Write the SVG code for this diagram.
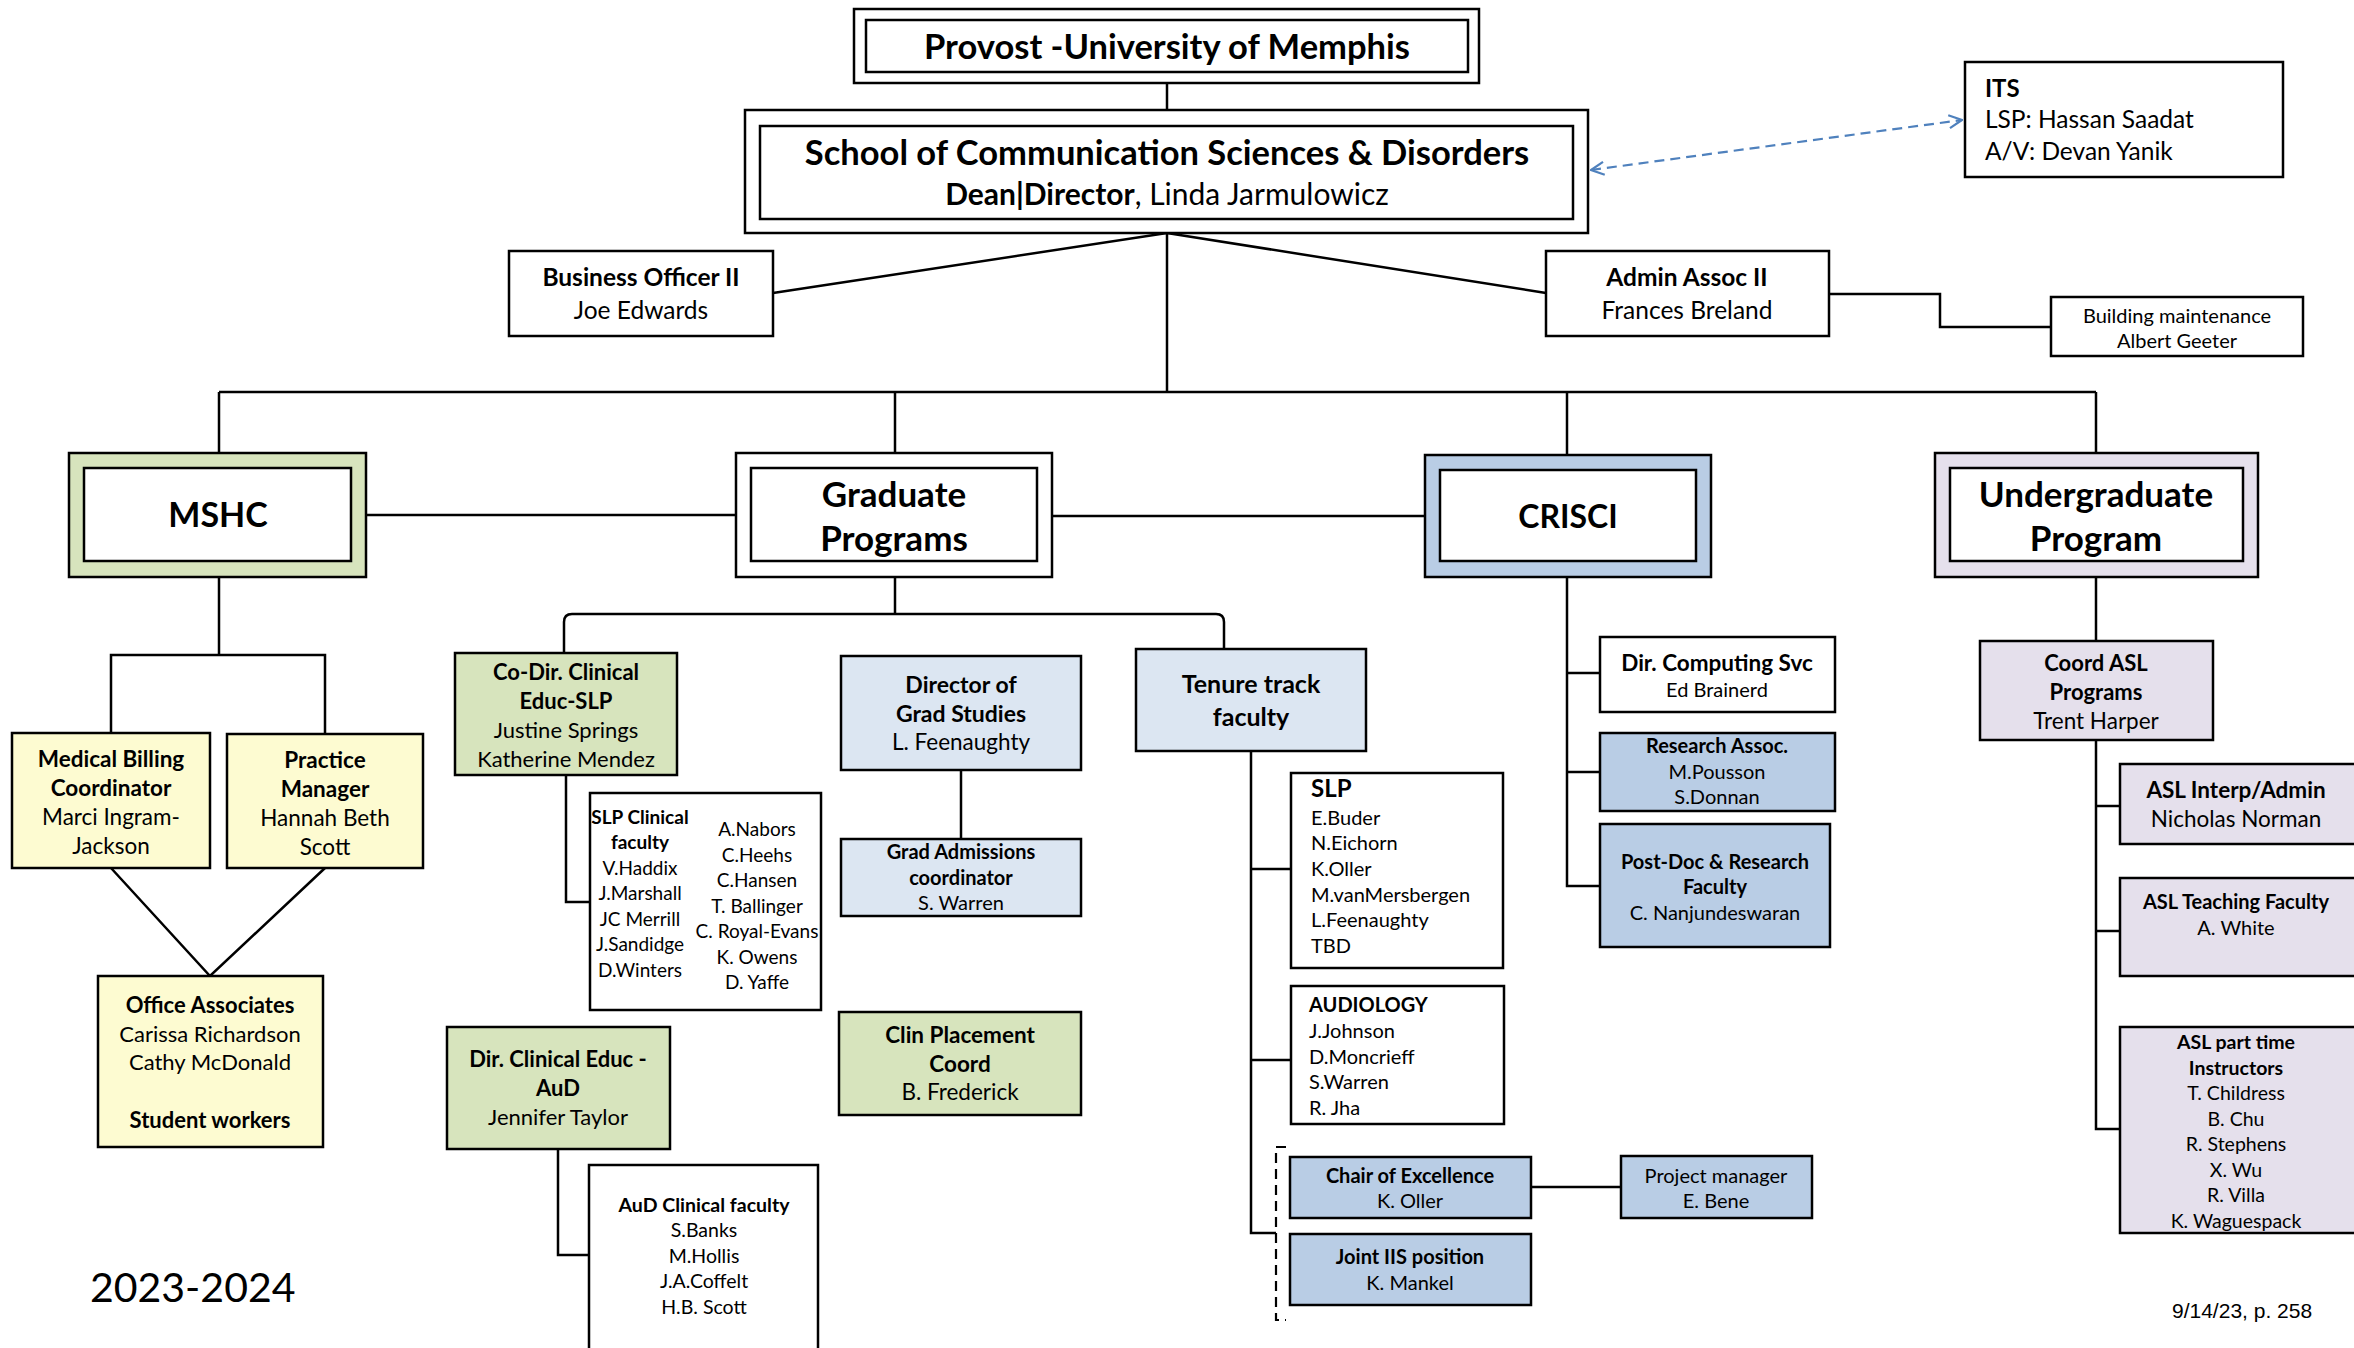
<svg xmlns="http://www.w3.org/2000/svg" width="2354" height="1348" viewBox="0 0 2354 1348">
<style>
text{font-family:Lato,"Liberation Sans",sans-serif;fill:#000}
.b{font-weight:bold}
.m{text-anchor:middle}
.box{stroke:#000;stroke-width:2.5}
.w{fill:#fff}
.g{fill:#d7e4bd}
.y{fill:#fdfbd1}
.lb{fill:#dce6f2}
.mb{fill:#b9cde5}
.lv{fill:#e5e0ec}
.c{fill:none;stroke:#000;stroke-width:2.5}
</style>
<defs>
<marker id="ah" viewBox="0 0 16 16" refX="15" refY="8" markerWidth="16" markerHeight="16" markerUnits="userSpaceOnUse" orient="auto-start-reverse">
<path d="M2,1.5 L15,8 L2,14.5" fill="none" stroke="#4f81bd" stroke-width="2.2"/>
</marker>
</defs>
<rect width="2354" height="1348" fill="#fff"/>

<g id="connectors">
<line class="c" x1="1167" y1="83" x2="1167" y2="110"/>
<polyline class="c" points="773,293 1167,233 1546,293"/>
<line class="c" x1="1167" y1="233" x2="1167" y2="392"/>
<line class="c" x1="219" y1="392" x2="2096" y2="392"/>
<line class="c" x1="219" y1="392" x2="219" y2="453"/>
<line class="c" x1="895" y1="392" x2="895" y2="453"/>
<line class="c" x1="1567" y1="392" x2="1567" y2="455"/>
<line class="c" x1="2096" y1="392" x2="2096" y2="453"/>
<polyline class="c" points="1829,294 1940,294 1940,327 2051,327"/>
<line x1="1591" y1="170" x2="1962" y2="120" stroke="#4f81bd" stroke-width="2.2" stroke-dasharray="10,6" marker-start="url(#ah)" marker-end="url(#ah)"/>
<line class="c" x1="366" y1="515" x2="736" y2="515"/>
<line class="c" x1="1052" y1="516" x2="1425" y2="516"/>
<polyline class="c" points="219,577 219,655"/>
<polyline class="c" points="111,733 111,655 325,655 325,734"/>
<polyline class="c" points="111,868 210,976 325,868"/>
<line class="c" x1="895" y1="577" x2="895" y2="614"/>
<path class="c" d="M564,653 L564,622 Q564,614 572,614 L1216,614 Q1224,614 1224,622 L1224,649"/>
<polyline class="c" points="566,775 566,902 590,902"/>
<polyline class="c" points="558,1149 558,1255 589,1255"/>
<line class="c" x1="961" y1="770" x2="961" y2="839"/>
<polyline class="c" points="1251,751 1251,1233 1276,1233"/>
<line class="c" x1="1251" y1="869" x2="1291" y2="869"/>
<line class="c" x1="1251" y1="1060" x2="1291" y2="1060"/>
<polyline points="1286,1147 1276,1147 1276,1320 1286,1320" fill="none" stroke="#000" stroke-width="2.2" stroke-dasharray="10,6"/>
<line class="c" x1="1531" y1="1187" x2="1621" y2="1187"/>
<polyline class="c" points="1567,577 1567,886 1600,886"/>
<line class="c" x1="1567" y1="673" x2="1600" y2="673"/>
<line class="c" x1="1567" y1="772" x2="1600" y2="772"/>
<line class="c" x1="2096" y1="577" x2="2096" y2="641"/>
<polyline class="c" points="2096,740 2096,1129 2120,1129"/>
<line class="c" x1="2096" y1="806" x2="2120" y2="806"/>
<line class="c" x1="2096" y1="931" x2="2120" y2="931"/>
</g>

<g id="provost">
<rect class="box w" x="854" y="9" width="625" height="74"/>
<rect class="box w" x="866" y="20" width="602" height="52"/>
<text class="b m" style="font-size:34.5px" x="1167" y="59">Provost -University of Memphis</text>
</g>
<g id="school">
<rect class="box w" x="745" y="110" width="843" height="123"/>
<rect class="box w" x="760" y="126" width="813" height="93"/>
<text class="b m" style="font-size:34.5px" x="1167" y="165">School of Communication Sciences &amp; Disorders</text>
<text class="m" style="font-size:30px" x="1167" y="205"><tspan class="b">Dean|Director</tspan>, Linda Jarmulowicz</text>
</g>
<g id="its">
<rect class="box w" x="1965" y="62" width="318" height="115"/>
<text class="b" style="font-size:24px" x="1985" y="97">ITS</text>
<text style="font-size:24.5px" x="1985" y="128">LSP: Hassan Saadat</text>
<text style="font-size:24.5px" x="1985" y="160">A/V: Devan Yanik</text>
</g>
<g id="business-officer">
<rect class="box w" x="509" y="251" width="264" height="85"/>
<text class="b m" style="font-size:24.5px" x="641" y="286">Business Officer II</text>
<text class="m" style="font-size:24.5px" x="641" y="319">Joe Edwards</text>
</g>
<g id="admin-assoc">
<rect class="box w" x="1546" y="251" width="283" height="85"/>
<text class="b m" style="font-size:24.5px" x="1687" y="286">Admin Assoc II</text>
<text class="m" style="font-size:24.5px" x="1687" y="319">Frances Breland</text>
</g>
<g id="building">
<rect class="box w" x="2051" y="297" width="252" height="59"/>
<text class="m" style="font-size:20px" x="2177" y="323">Building maintenance</text>
<text class="m" style="font-size:20px" x="2177" y="348">Albert Geeter</text>
</g>

<g id="mshc">
<rect class="box g" x="69" y="453" width="297" height="124"/>
<rect class="box w" x="84" y="468" width="267" height="93"/>
<text class="b m" style="font-size:34px" x="218" y="527">MSHC</text>
</g>
<g id="graduate">
<rect class="box w" x="736" y="453" width="316" height="124"/>
<rect class="box w" x="751" y="468" width="286" height="93"/>
<text class="b m" style="font-size:35px" x="894" y="507">Graduate</text>
<text class="b m" style="font-size:35px" x="894" y="551">Programs</text>
</g>
<g id="crisci">
<rect class="box mb" x="1425" y="455" width="286" height="122"/>
<rect class="box w" x="1440" y="470" width="256" height="91"/>
<text class="b m" style="font-size:32px" x="1568" y="528">CRISCI</text>
</g>
<g id="undergraduate">
<rect class="box lv" x="1935" y="453" width="323" height="124"/>
<rect class="box w" x="1950" y="468" width="293" height="93"/>
<text class="b m" style="font-size:35px" x="2096" y="507">Undergraduate</text>
<text class="b m" style="font-size:35px" x="2096" y="551">Program</text>
</g>

<g id="medical-billing">
<rect class="box y" x="12" y="733" width="198" height="135"/>
<text class="b m" style="font-size:22.5px" x="111" y="767">Medical Billing</text>
<text class="b m" style="font-size:22.5px" x="111" y="796">Coordinator</text>
<text class="m" style="font-size:22.5px" x="111" y="825">Marci Ingram-</text>
<text class="m" style="font-size:22.5px" x="111" y="854">Jackson</text>
</g>
<g id="practice-manager">
<rect class="box y" x="227" y="734" width="196" height="134"/>
<text class="b m" style="font-size:22.5px" x="325" y="768">Practice</text>
<text class="b m" style="font-size:22.5px" x="325" y="797">Manager</text>
<text class="m" style="font-size:22.5px" x="325" y="826">Hannah Beth</text>
<text class="m" style="font-size:22.5px" x="325" y="855">Scott</text>
</g>
<g id="office-associates">
<rect class="box y" x="98" y="976" width="225" height="171"/>
<text class="b m" style="font-size:22px" x="210" y="1013">Office Associates</text>
<text class="m" style="font-size:22px" x="210" y="1042">Carissa Richardson</text>
<text class="m" style="font-size:22px" x="210" y="1070">Cathy McDonald</text>
<text class="b m" style="font-size:22px" x="210" y="1128">Student workers</text>
</g>

<g id="codir-slp">
<rect class="box g" x="455" y="653" width="222" height="122"/>
<text class="b m" style="font-size:22px" x="566" y="680">Co-Dir. Clinical</text>
<text class="b m" style="font-size:22px" x="566" y="709">Educ-SLP</text>
<text class="m" style="font-size:22px" x="566" y="738">Justine Springs</text>
<text class="m" style="font-size:22px" x="566" y="767">Katherine Mendez</text>
</g>
<g id="slp-clinical">
<rect class="box w" x="590" y="793" width="231" height="217"/>
<text class="b m" style="font-size:19px" x="640" y="824">SLP Clinical</text>
<text class="b m" style="font-size:19px" x="640" y="849">faculty</text>
<text class="m" style="font-size:19px" x="640" y="875">V.Haddix</text>
<text class="m" style="font-size:19px" x="640" y="900">J.Marshall</text>
<text class="m" style="font-size:19px" x="640" y="926">JC Merrill</text>
<text class="m" style="font-size:19px" x="640" y="951">J.Sandidge</text>
<text class="m" style="font-size:19px" x="640" y="977">D.Winters</text>
<text class="m" style="font-size:19px" x="757" y="836">A.Nabors</text>
<text class="m" style="font-size:19px" x="757" y="862">C.Heehs</text>
<text class="m" style="font-size:19px" x="757" y="887">C.Hansen</text>
<text class="m" style="font-size:19px" x="757" y="913">T. Ballinger</text>
<text class="m" style="font-size:19px" x="757" y="938">C. Royal-Evans</text>
<text class="m" style="font-size:19px" x="757" y="964">K. Owens</text>
<text class="m" style="font-size:19px" x="757" y="989">D. Yaffe</text>
</g>
<g id="dir-aud">
<rect class="box g" x="447" y="1027" width="223" height="122"/>
<text class="b m" style="font-size:22px" x="558" y="1067">Dir. Clinical Educ -</text>
<text class="b m" style="font-size:22px" x="558" y="1096">AuD</text>
<text class="m" style="font-size:22px" x="558" y="1125">Jennifer Taylor</text>
</g>
<g id="aud-clinical">
<rect class="box w" x="589" y="1165" width="229" height="190"/>
<text class="b m" style="font-size:19.5px" x="704" y="1212">AuD Clinical faculty</text>
<text class="m" style="font-size:19.5px" x="704" y="1237">S.Banks</text>
<text class="m" style="font-size:19.5px" x="704" y="1263">M.Hollis</text>
<text class="m" style="font-size:19.5px" x="704" y="1288">J.A.Coffelt</text>
<text class="m" style="font-size:19.5px" x="704" y="1314">H.B. Scott</text>
</g>
<g id="dir-grad">
<rect class="box lb" x="841" y="656" width="240" height="114"/>
<text class="b m" style="font-size:23px" x="961" y="693">Director of</text>
<text class="b m" style="font-size:23px" x="961" y="722">Grad Studies</text>
<text class="m" style="font-size:22.5px" x="961" y="750">L. Feenaughty</text>
</g>
<g id="grad-admissions">
<rect class="box lb" x="841" y="839" width="240" height="77"/>
<text class="b m" style="font-size:20px" x="961" y="859">Grad Admissions</text>
<text class="b m" style="font-size:20px" x="961" y="885">coordinator</text>
<text class="m" style="font-size:20px" x="961" y="910">S. Warren</text>
</g>
<g id="clin-placement">
<rect class="box g" x="839" y="1012" width="242" height="103"/>
<text class="b m" style="font-size:22.5px" x="960" y="1043">Clin Placement</text>
<text class="b m" style="font-size:22.5px" x="960" y="1072">Coord</text>
<text class="m" style="font-size:22.5px" x="960" y="1100">B. Frederick</text>
</g>
<g id="tenure">
<rect class="box lb" x="1136" y="649" width="230" height="102"/>
<text class="b m" style="font-size:25px" x="1251" y="693">Tenure track</text>
<text class="b m" style="font-size:25px" x="1251" y="726">faculty</text>
</g>
<g id="slp">
<rect class="box w" x="1291" y="773" width="212" height="195"/>
<text class="b" style="font-size:24px" x="1311" y="797">SLP</text>
<text style="font-size:20px" x="1311" y="825">E.Buder</text>
<text style="font-size:20px" x="1311" y="850">N.Eichorn</text>
<text style="font-size:20px" x="1311" y="876">K.Oller</text>
<text style="font-size:20px" x="1311" y="902">M.vanMersbergen</text>
<text style="font-size:20px" x="1311" y="927">L.Feenaughty</text>
<text style="font-size:20px" x="1311" y="953">TBD</text>
</g>
<g id="audiology">
<rect class="box w" x="1291" y="986" width="213" height="138"/>
<text class="b" style="font-size:20px" x="1309" y="1012">AUDIOLOGY</text>
<text style="font-size:20px" x="1309" y="1038">J.Johnson</text>
<text style="font-size:20px" x="1309" y="1064">D.Moncrieff</text>
<text style="font-size:20px" x="1309" y="1089">S.Warren</text>
<text style="font-size:20px" x="1309" y="1115">R. Jha</text>
</g>
<g id="chair">
<rect class="box mb" x="1290" y="1157" width="241" height="61"/>
<text class="b m" style="font-size:20px" x="1410" y="1183">Chair of Excellence</text>
<text class="m" style="font-size:20px" x="1410" y="1208">K. Oller</text>
</g>
<g id="joint-iis">
<rect class="box mb" x="1290" y="1234" width="241" height="71"/>
<text class="b m" style="font-size:20px" x="1410" y="1264">Joint IIS position</text>
<text class="m" style="font-size:20px" x="1410" y="1290">K. Mankel</text>
</g>
<g id="project-manager">
<rect class="box mb" x="1621" y="1156" width="191" height="62"/>
<text class="m" style="font-size:20px" x="1716" y="1183">Project manager</text>
<text class="m" style="font-size:20px" x="1716" y="1208">E. Bene</text>
</g>
<g id="dir-computing">
<rect class="box w" x="1600" y="637" width="235" height="75"/>
<text class="b m" style="font-size:22.5px" x="1717" y="671">Dir. Computing Svc</text>
<text class="m" style="font-size:20px" x="1717" y="697">Ed Brainerd</text>
</g>
<g id="research-assoc">
<rect class="box mb" x="1600" y="733" width="235" height="78"/>
<text class="b m" style="font-size:20px" x="1717" y="753">Research Assoc.</text>
<text class="m" style="font-size:20px" x="1717" y="779">M.Pousson</text>
<text class="m" style="font-size:20px" x="1717" y="804">S.Donnan</text>
</g>
<g id="postdoc">
<rect class="box mb" x="1600" y="824" width="230" height="123"/>
<text class="b m" style="font-size:20px" x="1715" y="869">Post-Doc &amp; Research</text>
<text class="b m" style="font-size:20px" x="1715" y="894">Faculty</text>
<text class="m" style="font-size:20px" x="1715" y="920">C. Nanjundeswaran</text>
</g>
<g id="coord-asl">
<rect class="box lv" x="1980" y="641" width="233" height="99"/>
<text class="b m" style="font-size:22px" x="2096" y="671">Coord ASL</text>
<text class="b m" style="font-size:22px" x="2096" y="700">Programs</text>
<text class="m" style="font-size:22.5px" x="2096" y="729">Trent Harper</text>
</g>
<g id="asl-interp">
<rect class="box lv" x="2120" y="764" width="240" height="80"/>
<text class="b m" style="font-size:22.5px" x="2236" y="798">ASL Interp/Admin</text>
<text class="m" style="font-size:22.5px" x="2236" y="827">Nicholas Norman</text>
</g>
<g id="asl-teaching">
<rect class="box lv" x="2120" y="878" width="240" height="98"/>
<text class="b m" style="font-size:20px" x="2236" y="909">ASL Teaching Faculty</text>
<text class="m" style="font-size:20px" x="2236" y="935">A. White</text>
</g>
<g id="asl-parttime">
<rect class="box lv" x="2120" y="1027" width="240" height="206"/>
<text class="b m" style="font-size:19.5px" x="2236" y="1049">ASL part time</text>
<text class="b m" style="font-size:19.5px" x="2236" y="1075">Instructors</text>
<text class="m" style="font-size:19.5px" x="2236" y="1100">T. Childress</text>
<text class="m" style="font-size:19.5px" x="2236" y="1126">B. Chu</text>
<text class="m" style="font-size:19.5px" x="2236" y="1151">R. Stephens</text>
<text class="m" style="font-size:19.5px" x="2236" y="1177">X. Wu</text>
<text class="m" style="font-size:19.5px" x="2236" y="1202">R. Villa</text>
<text class="m" style="font-size:19.5px" x="2236" y="1228">K. Waguespack</text>
</g>

<text x="90" y="1302" style="font-size:41px">2023-2024</text>
<text x="2172" y="1318" style="font-family:'Liberation Sans',Arial,sans-serif;font-size:21px">9/14/23, p. 258</text>
</svg>
